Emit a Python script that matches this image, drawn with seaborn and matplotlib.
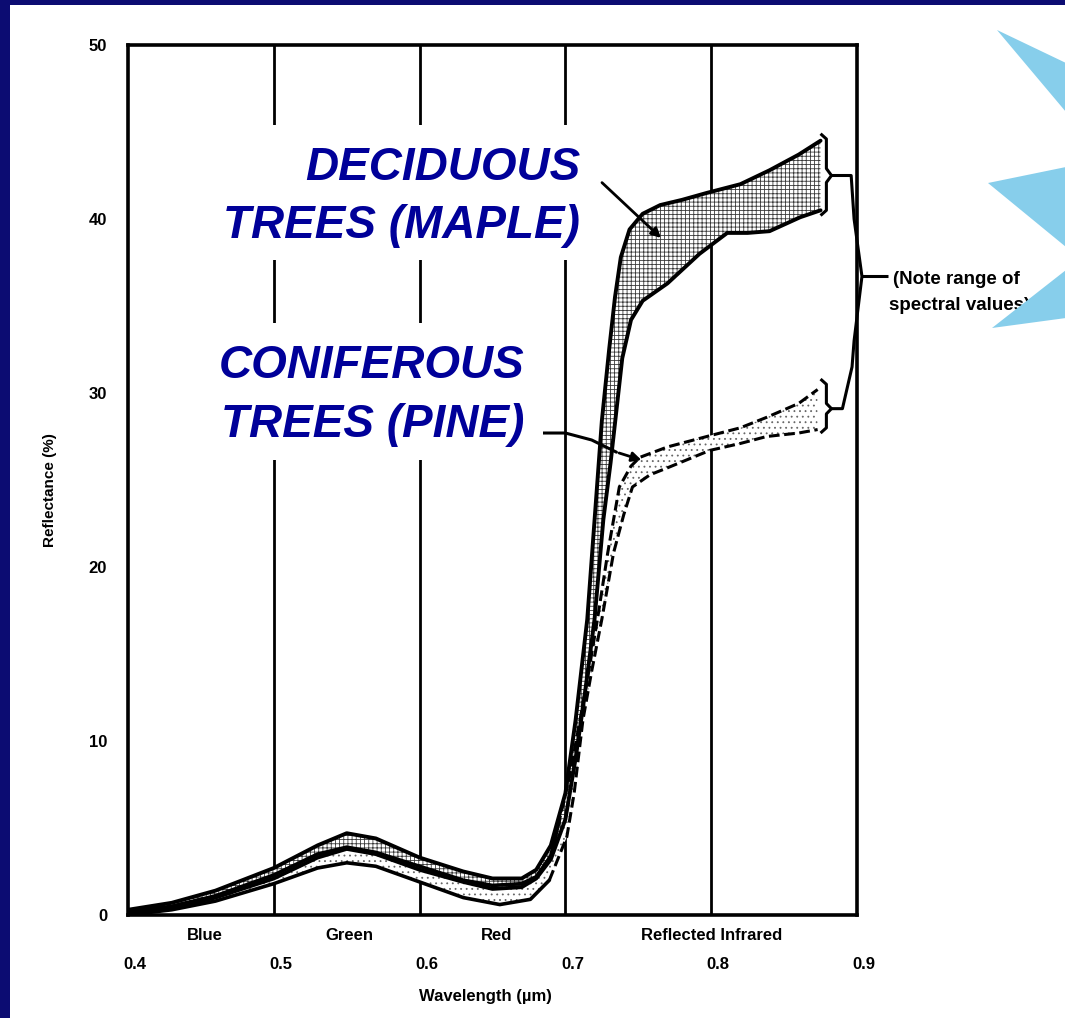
import numpy as np
import pandas as pd
import matplotlib
matplotlib.use("Agg")
import matplotlib.pyplot as plt
import matplotlib.transforms as mtransforms
import seaborn as sns
from matplotlib.patches import Polygon, Rectangle

# ---------------- data ----------------
dec_hi_wl = [0.40, 0.43, 0.46, 0.50, 0.53, 0.55, 0.57, 0.60, 0.63, 0.65, 0.67, 0.68, 0.69, 0.70,
             0.707, 0.715, 0.720, 0.725, 0.730, 0.734, 0.738, 0.744, 0.753, 0.765, 0.780, 0.797,
             0.820, 0.840, 0.860, 0.875]
dec_hi = [0.3, 0.7, 1.4, 2.7, 4.0, 4.7, 4.4, 3.3, 2.5, 2.1, 2.1, 2.6, 4.0, 7.0,
          11.2, 17.0, 22.7, 28.4, 32.5, 35.5, 37.8, 39.4, 40.3, 40.8, 41.1, 41.5,
          42.0, 42.8, 43.7, 44.5]

dec_lo_wl = [0.40, 0.43, 0.46, 0.50, 0.53, 0.55, 0.57, 0.60, 0.63, 0.65, 0.67, 0.68, 0.69, 0.70,
             0.707, 0.713, 0.720, 0.726, 0.731, 0.735, 0.739, 0.745, 0.753, 0.770, 0.792, 0.811,
             0.825, 0.840, 0.861, 0.875]
dec_lo = [0.1, 0.4, 1.0, 2.1, 3.3, 3.8, 3.5, 2.6, 1.9, 1.5, 1.6, 2.1, 3.2, 5.5,
          9.0, 12.5, 17.0, 22.7, 26.0, 29.0, 32.0, 34.2, 35.3, 36.3, 38.0, 39.2,
          39.2, 39.3, 40.1, 40.5]

con_hi_wl = [0.40, 0.43, 0.46, 0.50, 0.53, 0.55, 0.57, 0.60, 0.63, 0.65, 0.67, 0.68, 0.69,
             0.696, 0.703, 0.710, 0.716, 0.722, 0.729, 0.737, 0.745, 0.751, 0.770, 0.797,
             0.820, 0.838, 0.860, 0.873]
con_hi = [0.2, 0.5, 1.1, 2.3, 3.5, 3.9, 3.6, 2.8, 2.0, 1.7, 1.8, 2.2, 3.4,
          5.5, 8.0, 11.2, 14.0, 17.0, 20.8, 24.6, 25.8, 26.3, 26.9, 27.5,
          28.0, 28.6, 29.4, 30.2]

con_lo_wl = [0.40, 0.43, 0.46, 0.50, 0.53, 0.55, 0.57, 0.60, 0.63, 0.655, 0.676, 0.689,
             0.701, 0.706, 0.712, 0.718, 0.725, 0.733, 0.740, 0.746, 0.758, 0.770, 0.799,
             0.820, 0.838, 0.860, 0.873]
con_lo = [0.0, 0.3, 0.8, 1.8, 2.7, 3.0, 2.8, 1.9, 1.0, 0.6, 0.9, 2.0,
          4.5, 7.0, 11.2, 14.0, 17.0, 20.8, 23.0, 24.6, 25.3, 25.7, 26.7,
          27.1, 27.5, 27.7, 27.9]

x_ticks = [0.4, 0.5, 0.6, 0.7, 0.8, 0.9]
x_ticklabels = ["0.4", "0.5", "0.6", "0.7", "0.8", "0.9"]
y_ticks = [0, 10, 20, 30, 40, 50]
y_ticklabels = ["0", "10", "20", "30", "40", "50"]
band_names = ["Blue", "Green", "Red", "Reflected Infrared"]
band_pos = [0.453, 0.552, 0.653, 0.800]

deciduous_label = ["DECIDUOUS", "TREES (MAPLE)"]
coniferous_label = ["CONIFEROUS", "TREES (PINE)"]
note_label = ["(Note range of", "spectral values)"]

# ---------------- style ----------------
sns.set_theme(style="white")
plt.rcParams["font.family"] = ["Liberation Sans", "DejaVu Sans"]
plt.rcParams["hatch.linewidth"] = 0.6

W, H = 1065, 1018
fig = plt.figure(figsize=(W / 100, H / 100), dpi=100)
fig.patch.set_facecolor("white")


def fx(px):
    return px / W


def fy(py):
    return 1 - py / H


ax = fig.add_axes([fx(128), fy(915), fx(857) - fx(128), fy(45) - fy(915)])
ax.set_facecolor("white")

# ---------------- bands ----------------
def frame(wl, vals, name):
    return pd.DataFrame({"wavelength": wl, "reflectance": vals, "curve": name})


dec_df = pd.concat([frame(dec_hi_wl, dec_hi, "dec_hi"), frame(dec_lo_wl, dec_lo, "dec_lo")])
con_df = pd.concat([frame(con_hi_wl, con_hi, "con_hi"), frame(con_lo_wl, con_lo, "con_lo")])

# coniferous fill (light dots)
ax.fill(np.r_[con_hi_wl, con_lo_wl[::-1]], np.r_[con_hi, con_lo[::-1]],
        facecolor="white", edgecolor="#666666", hatch="...", linewidth=0, zorder=2)
# deciduous fill (grid)
ax.fill(np.r_[dec_hi_wl, dec_lo_wl[::-1]], np.r_[dec_hi, dec_lo[::-1]],
        facecolor="white", edgecolor="#3a3a3a", hatch="++++", linewidth=0, zorder=3)

# coniferous edges: solid in visible, dashed in infrared
con_vis = con_df[con_df["wavelength"] <= 0.70]
con_ir = con_df[con_df["wavelength"] >= 0.689]
sns.lineplot(data=con_vis, x="wavelength", y="reflectance", units="curve", estimator=None,
             sort=False, color="black", lw=2.6, ax=ax, legend=False, zorder=4)
sns.lineplot(data=con_ir, x="wavelength", y="reflectance", units="curve", estimator=None,
             sort=False, color="black", lw=2.2, linestyle=(0, (3.5, 1.5)), ax=ax,
             legend=False, zorder=4)
sns.lineplot(data=dec_df, x="wavelength", y="reflectance", units="curve", estimator=None,
             sort=False, color="black", lw=2.8, ax=ax, legend=False, zorder=5)

# ---------------- axes ----------------
ax.set_xlim(0.4, 0.9)
ax.set_ylim(0, 50)
ax.set_xticks(x_ticks)
ax.set_xticklabels(x_ticklabels)
ax.set_yticks(y_ticks)
ax.set_yticklabels(y_ticklabels)
ax.grid(False)
for xv in x_ticks[1:-1]:
    ax.axvline(xv, color="black", lw=2.0, zorder=1)
for s in ax.spines.values():
    s.set_visible(True)
    s.set_color("black")
    s.set_linewidth(2.6)
ax.tick_params(axis="x", direction="out", length=10, width=2.2, color="black",
               labelsize=12, pad=20)
ax.tick_params(axis="y", direction="out", length=10, width=2.2, color="black",
               labelsize=12, pad=5)
shift = mtransforms.ScaledTranslation(7 / 100, 0, fig.dpi_scale_trans)
for lab in ax.get_xticklabels():
    lab.set_transform(lab.get_transform() + shift)
for lab in ax.get_xticklabels() + ax.get_yticklabels():
    lab.set_fontweight("bold")
    lab.set_color("black")

ax.set_xlabel("Wavelength (\u00b5m)", fontsize=12, fontweight="bold", color="black")
ax.xaxis.set_label_coords((485 - 128) / 729, (915 - 989) / 870)
ax.set_ylabel("Reflectance (%)", fontsize=11, fontweight="bold", color="black")
ax.yaxis.set_label_coords((57 - 128) / 729, (915 - 490) / 870)

for name, pos in zip(band_names, band_pos):
    ax.text(pos, -(935 - 915) / 870, name, transform=ax.get_xaxis_transform(),
            ha="center", va="center", fontsize=12, fontweight="bold", color="black")

# ---------------- brackets / note ----------------
bk = dict(color="black", lw=2.2, clip_on=False, zorder=6, solid_capstyle="butt")
ax.plot([0.875, 0.879, 0.879, 0.8825, 0.879, 0.879, 0.875],
        [44.9, 44.6, 42.9, 42.5, 42.1, 40.5, 40.2], **bk)
ax.plot([0.875, 0.879, 0.879, 0.8825, 0.879, 0.879, 0.875],
        [30.8, 30.5, 29.4, 29.1, 28.8, 28.0, 27.7], **bk)
ax.plot([0.8825, 0.896, 0.898, 0.9034, 0.898, 0.8966, 0.890, 0.8825],
        [42.5, 42.5, 40.0, 36.7, 33.0, 31.5, 29.1, 29.1], **bk)
ax.plot([0.9034, 0.9215], [36.7, 36.7], **bk)
fig.text(fx(893), fy(279), note_label[0], ha="left", va="center", fontsize=13.5,
         fontweight="bold", color="black")
fig.text(fx(889), fy(305), note_label[1], ha="left", va="center", fontsize=13.5,
         fontweight="bold", color="black")

# ---------------- label boxes ----------------
fig.add_artist(Rectangle((fx(205), fy(260)), fx(598) - fx(205), fy(125) - fy(260),
                         transform=fig.transFigure, facecolor="white", edgecolor="none",
                         zorder=2))
fig.add_artist(Rectangle((fx(200), fy(460)), fx(543) - fx(200), fy(323) - fy(460),
                         transform=fig.transFigure, facecolor="white", edgecolor="none",
                         zorder=2))
lab_kw = dict(ha="right", va="baseline", fontsize=33, fontweight="bold",
              fontstyle="italic", color="#000099", zorder=3)
fig.text(fx(580), fy(180), deciduous_label[0], **lab_kw)
fig.text(fx(580), fy(238), deciduous_label[1], **lab_kw)
fig.text(fx(525), fy(378), coniferous_label[0], **lab_kw)
fig.text(fx(524), fy(437), coniferous_label[1], **lab_kw)

# leader lines
ax.annotate("", xy=(0.767, 38.8), xytext=(0.7237, 42.2),
            arrowprops=dict(arrowstyle="-|>", color="black", lw=2.0, mutation_scale=14),
            zorder=7)
ax.plot([0.6846, 0.700, 0.718, 0.735], [27.7, 27.7, 27.3, 26.6], color="black", lw=2.2,
        zorder=7)
ax.annotate("", xy=(0.754, 26.1), xytext=(0.735, 26.6),
            arrowprops=dict(arrowstyle="-|>", color="black", lw=2.0, mutation_scale=14),
            zorder=7)

# ---------------- decorations: frame and callout triangles ----------------
navy = "#0c0c72"
fig.add_artist(Rectangle((0, 0), fx(10), 1, transform=fig.transFigure,
                         facecolor=navy, edgecolor="none", zorder=10))
fig.add_artist(Rectangle((0, fy(5)), 1, 1 - fy(5), transform=fig.transFigure,
                         facecolor=navy, edgecolor="none", zorder=10))
sky = "#87CEEB"
for tri in ([(997, 30), (1066, 63), (1066, 112)],
            [(988, 183), (1066, 167), (1066, 247)],
            [(992, 328), (1066, 270), (1066, 318)]):
    fig.add_artist(Polygon([(fx(px), fy(py)) for px, py in tri], closed=True,
                           transform=fig.transFigure, facecolor=sky, edgecolor="none",
                           zorder=9))

fig.savefig("out.png", dpi=100, facecolor=fig.get_facecolor())
